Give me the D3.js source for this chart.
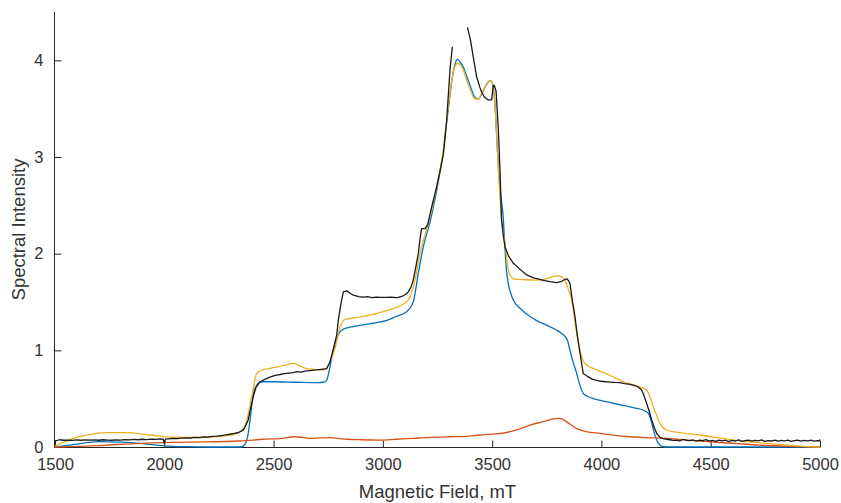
<!DOCTYPE html>
<html>
<head>
<meta charset="utf-8">
<script src="https://cdn.jsdelivr.net/npm/d3@7"></script>
<style>
  html, body { margin: 0; padding: 0; background: #fff; }
  svg { display: block; }
  text { font-family: "Liberation Sans", Arial, Helvetica, sans-serif; }
</style>
</head>
<body>
<svg id="chart" width="841" height="503"></svg>
<script>
// ---------- data ----------
const xTicks = [1500, 2000, 2500, 3000, 3500, 4000, 4500, 5000];
const yTicks = [0, 1, 2, 3, 4];
const xLabel = "Magnetic Field, mT";
const yLabel = "Spectral Intensity";

// simulation 1 (blue)
const blueField = [1500,1600,1700,1800,1900,2000,2100,2200,2300,2350,2370,2384,2395,2407,2418,2430,2453,2500,2600,2700,2728,2743,2758,2773,2789,2804,2819,2850,2900,2950,3018,3060,3109,3139,3162,3185,3216,3240,3261,3277,3292,3305,3315,3330,3341,3355,3368,3383,3399,3421,3437,3452,3467,3480,3490,3498,3505,3513,3521,3530,3540,3550,3559,3566,3574,3597,3630,3673,3710,3750,3790,3818,3844,3856,3870,3887,3900,3917,3940,3963,4000,4050,4100,4150,4192,4214,4230,4245,4260,4275,4300,4400,4500,4600,4700,4800,4900,5000];
const blueValue = [0,0.03,0.055,0.05,0.035,0.012,0.003,0,0,0,0.03,0.14,0.33,0.55,0.62,0.66,0.675,0.675,0.67,0.665,0.67,0.69,0.83,1.0,1.12,1.19,1.22,1.24,1.26,1.28,1.31,1.35,1.40,1.50,1.795,2.07,2.33,2.58,2.84,3.06,3.36,3.60,3.78,3.96,4.01,3.98,3.93,3.84,3.74,3.62,3.60,3.65,3.72,3.77,3.79,3.78,3.72,3.55,3.2,2.85,2.6,2.4,2.04,1.82,1.69,1.52,1.43,1.35,1.30,1.26,1.215,1.175,1.106,1.0,0.88,0.76,0.65,0.555,0.52,0.50,0.48,0.455,0.43,0.405,0.38,0.35,0.25,0.12,0.04,0.01,0,0,0,0,0,0,0,0];

// component (red)
const redField = [1500,1700,1889,2100,2346,2453,2540,2590,2630,2667,2720,2758,2835,2900,2987,3060,3139,3220,3307,3380,3445,3520,3582,3630,3673,3740,3780,3803,3820,3841,3887,3930,3993,4060,4131,4200,4298,4450,4603,4720,4832,5000];
const redValue = [0,0.015,0.038,0.05,0.062,0.08,0.09,0.106,0.1,0.09,0.095,0.096,0.08,0.075,0.072,0.08,0.09,0.1,0.106,0.11,0.124,0.135,0.158,0.19,0.227,0.265,0.29,0.297,0.29,0.26,0.19,0.16,0.14,0.12,0.106,0.098,0.09,0.06,0.038,0.02,0.01,0];

// simulation 2 (yellow)
const yellowField = [1500,1584,1650,1737,1828,1935,2041,2130,2224,2300,2346,2370,2385,2400,2423,2453,2500,2550,2590,2620,2651,2700,2728,2758,2781,2804,2827,2880,2941,3000,3063,3116,3147,3170,3200,3216,3240,3261,3277,3292,3305,3315,3330,3341,3355,3368,3383,3399,3421,3437,3452,3467,3480,3490,3498,3505,3513,3521,3533,3543,3559,3574,3597,3650,3719,3760,3795,3820,3833,3850,3864,3887,3910,3930,3978,4040,4100,4176,4207,4237,4268,4298,4359,4451,4603,4756,4908,5000];
const yellowValue = [0.01,0.09,0.125,0.148,0.148,0.124,0.10,0.10,0.106,0.12,0.158,0.22,0.35,0.52,0.76,0.80,0.82,0.845,0.865,0.84,0.81,0.80,0.795,0.88,1.02,1.24,1.32,1.34,1.364,1.40,1.444,1.52,1.726,2.0,2.25,2.38,2.62,2.86,3.08,3.38,3.62,3.79,3.94,3.97,3.95,3.90,3.80,3.70,3.60,3.60,3.66,3.72,3.77,3.79,3.78,3.72,3.55,3.2,2.69,2.35,2.1,1.83,1.74,1.73,1.726,1.75,1.77,1.76,1.726,1.62,1.52,1.175,0.93,0.85,0.80,0.74,0.675,0.62,0.59,0.42,0.245,0.176,0.148,0.124,0.072,0.038,0.01,0];

// experiment (black); null marks the missing stretch near the top
const blackField = [1500,1520,1540,1560,1580,1600,1620,1640,1660,1680,1700,1720,1740,1760,1780,1800,1820,1840,1860,1880,1900,1920,1940,1960,1980,1995,2000,2005,2020,2040,2060,2080,2100,2120,2140,2160,2180,2200,2220,2240,2260,2280,2300,2320,2340,2361,2372,2384,2395,2407,2420,2438,2460,2480,2500,2514,2530,2550,2570,2590,2606,2625,2645,2665,2685,2705,2725,2743,2758,2772,2789,2796,2808,2819,2835,2850,2865,2890,2911,2930,2950,2970,2990,3018,3040,3060,3071,3090,3105,3116,3130,3139,3150,3162,3170,3177,3193,3205,3223,3246,3262,3277,3292,3307,3318,3320,3387,3400,3414,3429,3444,3452,3465,3482,3498,3505,3510,3518,3528,3536,3543,3552,3559,3574,3597,3627,3658,3690,3719,3740,3765,3795,3815,3830,3841,3850,3856,3868,3879,3890,3902,3917,3940,3960,3978,4000,4020,4040,4060,4085,4105,4125,4146,4165,4184,4195,4207,4220,4230,4242,4253,4268,4280,4298,4313,4328,4343,4358,4373,4388,4403,4418,4433,4448,4463,4478,4493,4508,4523,4538,4553,4568,4583,4598,4613,4628,4643,4658,4673,4688,4703,4718,4733,4748,4763,4778,4793,4808,4823,4838,4853,4868,4883,4898,4913,4928,4943,4958,4973,4988,4995,5000];
const blackValue = [0.06,0.075,0.07,0.072,0.068,0.073,0.07,0.074,0.071,0.073,0.07,0.075,0.072,0.07,0.074,0.072,0.076,0.073,0.078,0.075,0.08,0.077,0.082,0.079,0.083,0.08,0.035,0.082,0.085,0.09,0.087,0.092,0.095,0.093,0.1,0.098,0.105,0.102,0.11,0.112,0.118,0.125,0.132,0.14,0.15,0.175,0.22,0.28,0.40,0.52,0.62,0.675,0.70,0.72,0.735,0.744,0.75,0.76,0.765,0.77,0.78,0.775,0.785,0.79,0.795,0.80,0.805,0.81,0.88,1.0,1.16,1.31,1.48,1.605,1.615,1.59,1.57,1.555,1.55,1.555,1.545,1.55,1.548,1.547,1.55,1.545,1.547,1.56,1.58,1.605,1.66,1.726,1.85,2.0,2.15,2.26,2.26,2.30,2.48,2.69,2.86,3.03,3.38,3.90,4.14,null,4.34,4.22,4.03,3.83,3.72,3.67,3.62,3.59,3.59,3.74,3.74,3.68,3.3,2.86,2.35,2.17,2.07,1.98,1.90,1.84,1.78,1.75,1.735,1.72,1.71,1.70,1.71,1.73,1.74,1.72,1.69,1.5,1.35,1.15,0.97,0.76,0.725,0.70,0.69,0.68,0.675,0.672,0.668,0.665,0.655,0.65,0.64,0.625,0.59,0.53,0.45,0.36,0.28,0.2,0.14,0.10,0.09,0.08,0.075,0.068,0.072,0.064,0.078,0.07,0.066,0.074,0.062,0.071,0.067,0.076,0.06,0.069,0.058,0.072,0.064,0.07,0.055,0.068,0.062,0.074,0.059,0.066,0.071,0.06,0.069,0.063,0.073,0.058,0.067,0.062,0.071,0.06,0.068,0.064,0.072,0.059,0.066,0.07,0.061,0.068,0.063,0.071,0.06,0.066,0.062,0.078];

const seriesColors = ["#0072BD", "#D95319", "#EDB120", "#1a1a1a"];

// ---------- layout ----------
const svg = d3.select("#chart");
const m = { left: 55, right: 21, top: 12, bottom: 56 };
const W = 841, H = 503;
const x = d3.scaleLinear().domain([1500, 5000]).range([m.left, W - m.right]);
const y = d3.scaleLinear().domain([0, 4.5]).range([H - m.bottom, m.top]);
const axisColor = "#262626";
const fmt = d3.format("d");

// axes
const xAxis = d3.axisBottom(x).tickValues(xTicks).tickFormat(fmt).tickSizeInner(-7).tickSizeOuter(0).tickPadding(11);
const yAxis = d3.axisLeft(y).tickValues(yTicks).tickFormat(fmt).tickSizeInner(-7).tickSizeOuter(0).tickPadding(11);

const gx = svg.append("g").attr("transform", `translate(0,${H - m.bottom + 0.5})`).call(xAxis);
const gy = svg.append("g").attr("transform", `translate(${m.left - 0.5},0)`).call(yAxis);
[gx, gy].forEach(g => {
  g.select(".domain").attr("stroke", axisColor).attr("stroke-width", 1);
  g.selectAll(".tick line").attr("stroke", axisColor);
  g.selectAll(".tick text").attr("fill", "#333").style("font-size", "16.5px")
    .style("font-family", '"Liberation Sans", Arial, sans-serif');
});
gx.select(".domain").attr("d", `M${m.left - 0.5},0H${W - m.right}`);
gy.select(".domain").attr("d", `M0,${y(0)}V${m.top}`);

// axis labels
svg.append("text").attr("x", (m.left + W - m.right) / 2).attr("y", 498)
  .attr("text-anchor", "middle").attr("fill", "#333").style("font-size", "18.5px").text(xLabel);
svg.append("text").attr("transform", `translate(25,${(m.top + H - m.bottom) / 2}) rotate(-90)`)
  .attr("text-anchor", "middle").attr("fill", "#333").style("font-size", "18.5px").text(yLabel);

// lines
const series = [
  { f: blueField, v: blueValue, c: seriesColors[0], curve: d3.curveMonotoneX },
  { f: redField, v: redValue, c: seriesColors[1], curve: d3.curveMonotoneX },
  { f: yellowField, v: yellowValue, c: seriesColors[2], curve: d3.curveMonotoneX },
  { f: blackField, v: blackValue, c: seriesColors[3], curve: d3.curveLinear }
];
series.forEach(s => {
  const pts = s.f.map((f, i) => [f, s.v[i]]);
  const line = d3.line()
    .defined(d => d[1] !== null)
    .x(d => x(d[0])).y(d => y(d[1]))
    .curve(s.curve);
  svg.append("path").datum(pts)
    .attr("fill", "none").attr("stroke", s.c).attr("stroke-width", 1.3)
    .attr("stroke-linejoin", "round").attr("d", line);
});
</script>
</body>
</html>
